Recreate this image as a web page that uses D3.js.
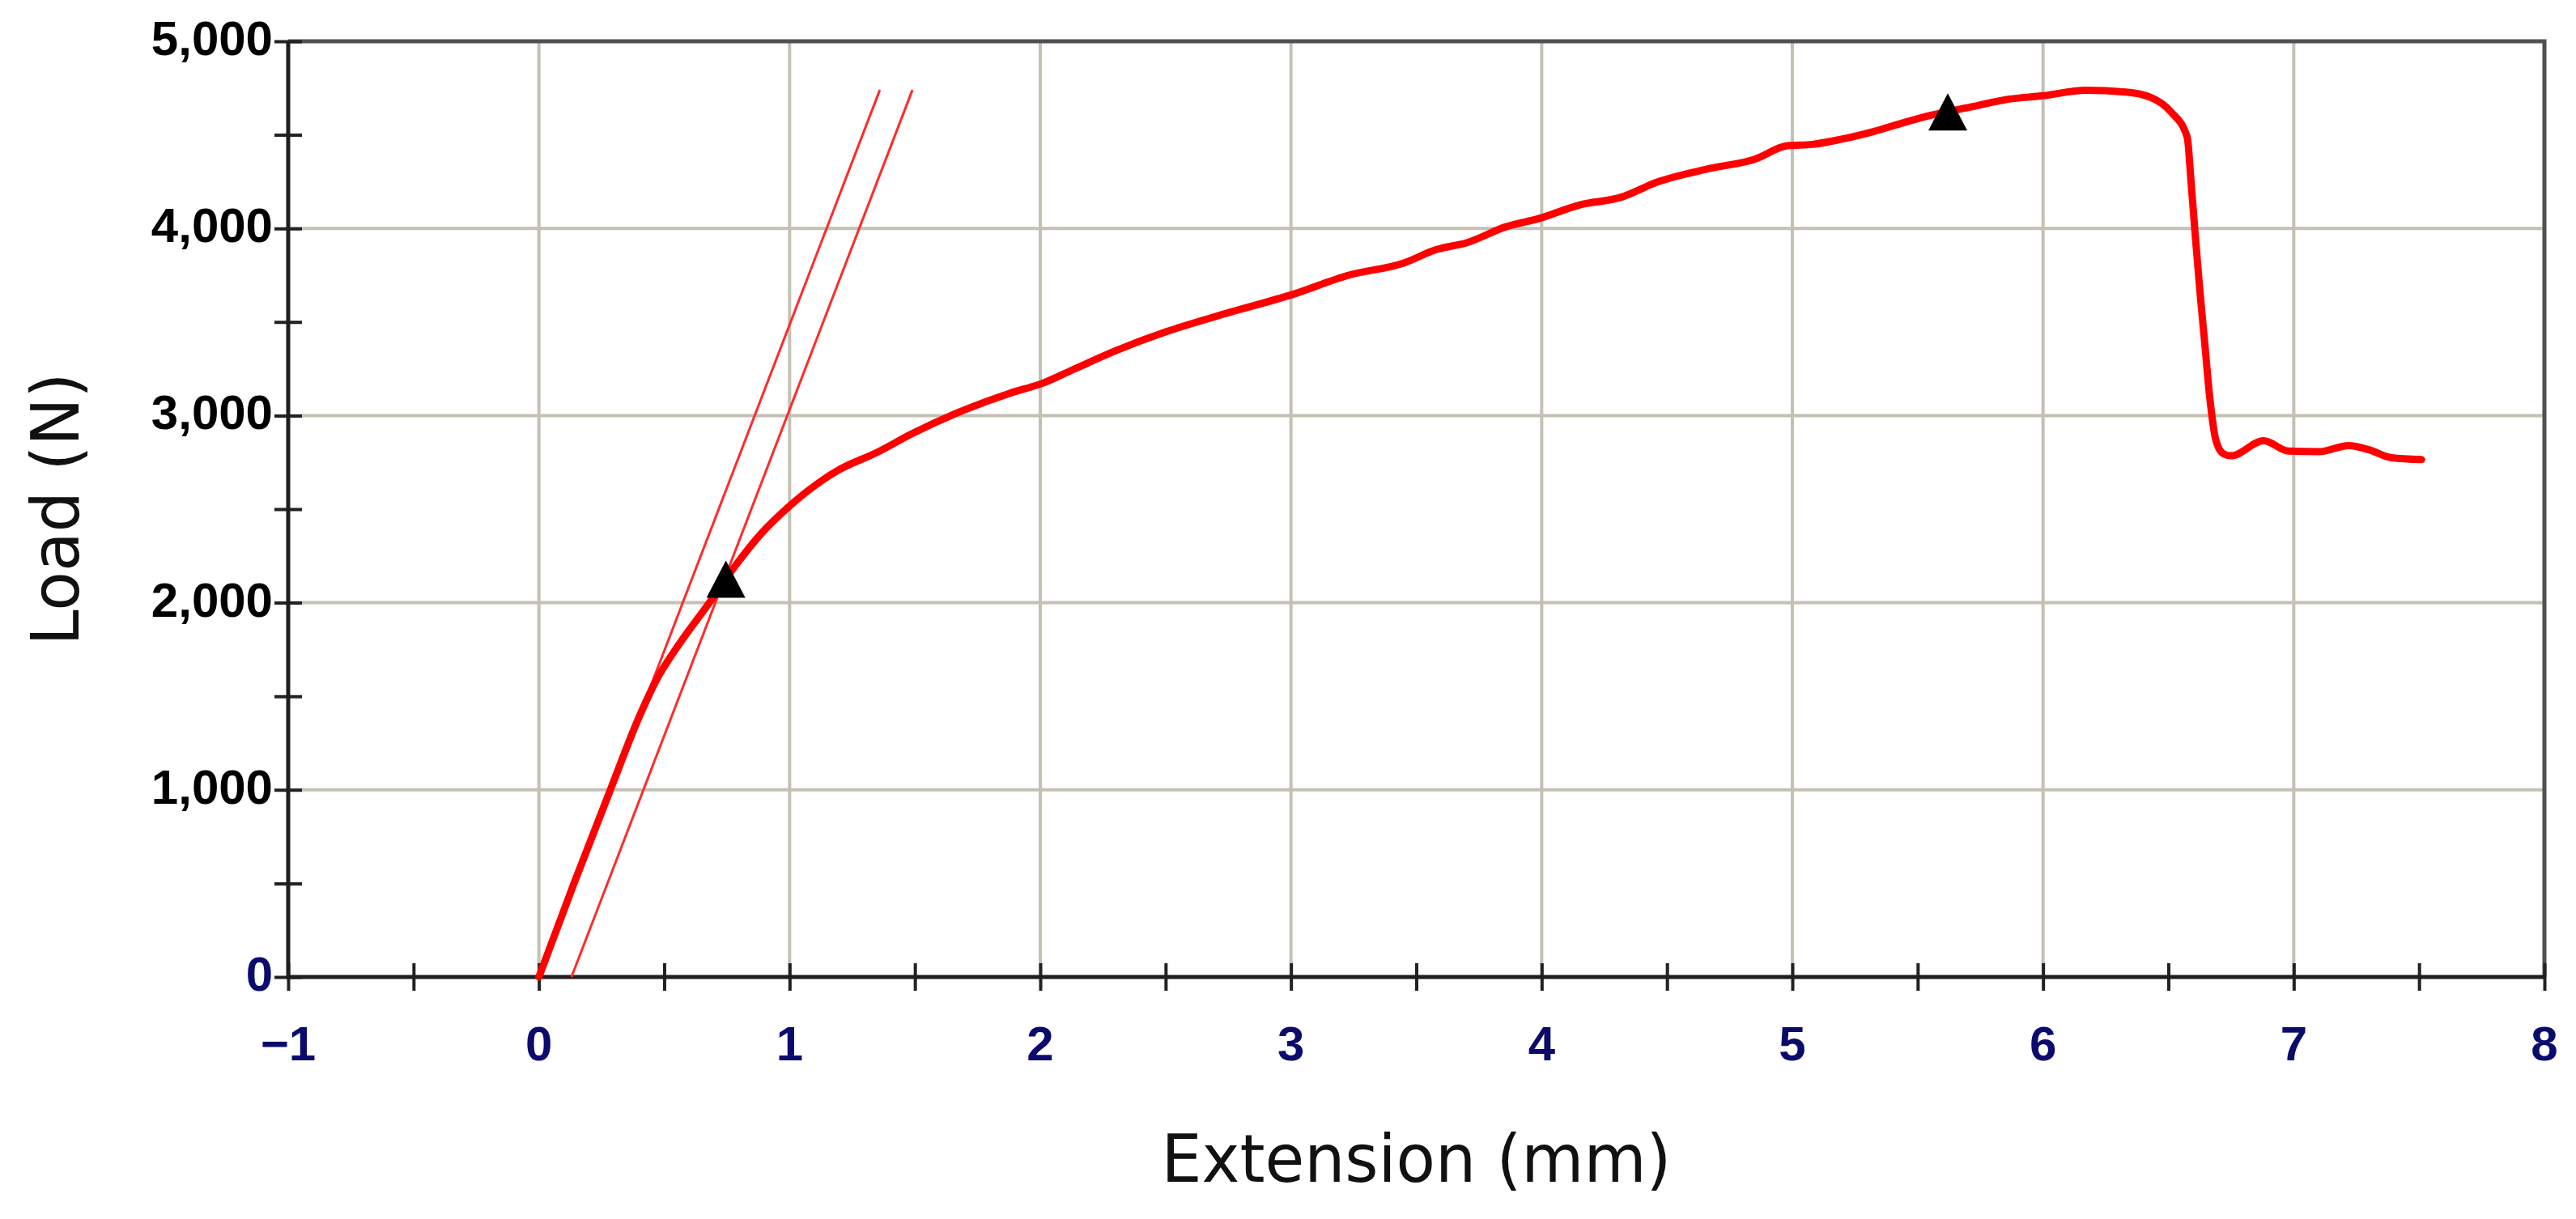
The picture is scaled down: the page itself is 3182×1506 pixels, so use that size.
<!DOCTYPE html>
<html>
<head>
<meta charset="utf-8">
<script src="https://cdn.jsdelivr.net/npm/d3@7"></script>
<style>
  body { margin: 0; background: #fff; }
</style>
</head>
<body>
<div class="chart-container"></div>
<script>
// extension (mm) and load (N)
const extension = [0, 0.14, 0.285, 0.40, 0.47, 0.55, 0.68, 0.785, 0.89, 1.0, 1.19, 1.35, 1.49, 1.67, 1.88,
  2.01, 2.13, 2.3, 2.5, 2.71, 3.01, 3.23, 3.45, 3.58, 3.7, 3.86, 3.99, 4.15, 4.32, 4.46, 4.67, 4.85, 4.98,
  5.08, 5.2, 5.32, 5.44, 5.56, 5.72, 5.86, 6.0, 6.17, 6.33, 6.43, 6.51, 6.575, 6.59, 6.607, 6.625, 6.645,
  6.665, 6.69, 6.72, 6.75, 6.88, 6.98, 7.1, 7.22, 7.3, 7.39, 7.51]
const load = [0, 500, 1000, 1390, 1590, 1760, 2000, 2200, 2374, 2517, 2705, 2804, 2904, 3015, 3120,
  3173, 3245, 3346, 3447, 3534, 3649, 3750, 3815, 3887, 3923, 4010, 4053, 4125, 4168, 4247, 4320, 4370, 4442,
  4449, 4478, 4516, 4564, 4607, 4651, 4690, 4709, 4738, 4729, 4700, 4623, 4488, 4256, 3966, 3676, 3387,
  3097, 2865, 2795, 2785, 2865, 2810, 2807, 2840, 2817, 2775, 2765]

// modulus line and offset line
const slopeLines = [
  [[0, 0], [1.36, 4740]],
  [[0.13, 0], [1.49, 4740]]
]

// yield and max load markers
const markerX = [0.746, 5.62]
const markerY = [2093, 4590]

const xTicks = [-1, 0, 1, 2, 3, 4, 5, 6, 7, 8]
const yTicks = [0, 1000, 2000, 3000, 4000, 5000]
const xMinor = d3.range(-1, 8.01, 0.5)
const yMinor = d3.range(0, 5001, 500)

const width = 3182
const height = 1506
const plot = { left: 356, right: 3143, top: 51, bottom: 1207 }

const svg = d3.select('.chart-container')
  .append('svg')
  .attr('width', width)
  .attr('height', height)

const x = d3.scaleLinear().domain([-1, 8]).range([plot.left, plot.right])
const y = d3.scaleLinear().domain([0, 5000]).range([plot.bottom, plot.top])

const gridColor = '#c4c0b3'

// grid
svg.append('g')
  .selectAll('line')
  .data(xTicks.slice(1, -1))
  .enter()
  .append('line')
  .attr('x1', d => x(d)).attr('x2', d => x(d))
  .attr('y1', plot.top).attr('y2', plot.bottom)
  .attr('stroke', gridColor)
  .attr('stroke-width', 4)

svg.append('g')
  .selectAll('line')
  .data(yTicks.slice(1, -1))
  .enter()
  .append('line')
  .attr('x1', plot.left).attr('x2', plot.right)
  .attr('y1', d => y(d)).attr('y2', d => y(d))
  .attr('stroke', gridColor)
  .attr('stroke-width', 4)

// top and right border
svg.append('path')
  .attr('d', `M${plot.left},${plot.top}H${plot.right}V${plot.bottom}`)
  .attr('fill', 'none')
  .attr('stroke', '#505050')
  .attr('stroke-width', 5)

// axes with ticks crossing the line
const xAxis = svg.append('g')
  .attr('transform', `translate(0,${plot.bottom})`)
  .call(d3.axisBottom(x).tickValues(xMinor).tickSize(17).tickFormat(''))
xAxis.select('.domain').remove()
xAxis.selectAll('.tick line').attr('y1', -17).attr('stroke', '#222').attr('stroke-width', 4)

const yAxis = svg.append('g')
  .attr('transform', `translate(${plot.left},0)`)
  .call(d3.axisLeft(y).tickValues(yMinor).tickSize(17).tickFormat(''))
yAxis.select('.domain').remove()
yAxis.selectAll('.tick line').attr('x1', 17).attr('stroke', '#222').attr('stroke-width', 4)

svg.append('path')
  .attr('d', `M${plot.left},${plot.top}V${plot.bottom}H${plot.right}`)
  .attr('fill', 'none')
  .attr('stroke', '#1e1e1e')
  .attr('stroke-width', 5)

// tick labels
svg.append('g')
  .selectAll('text')
  .data(xTicks)
  .enter()
  .append('text')
  .attr('x', d => x(d))
  .attr('y', 1310)
  .attr('text-anchor', 'middle')
  .attr('font-family', 'Liberation Sans, Arial, sans-serif')
  .attr('font-weight', 'bold')
  .attr('font-size', 60)
  .attr('fill', '#0b0b6e')
  .text(d => d3.format('')(d))

svg.append('g')
  .selectAll('text')
  .data(yTicks)
  .enter()
  .append('text')
  .attr('x', 337)
  .attr('y', d => y(d) + 17)
  .attr('text-anchor', 'end')
  .attr('font-family', 'Liberation Sans, Arial, sans-serif')
  .attr('font-weight', 'bold')
  .attr('font-size', 60)
  .attr('fill', d => d === 0 ? '#0b0b6e' : '#000')
  .text(d => d3.format(',')(d))

// axis titles
svg.append('text')
  .attr('x', (plot.left + plot.right) / 2)
  .attr('y', 1460)
  .attr('text-anchor', 'middle')
  .attr('font-family', 'DejaVu Sans, Verdana, sans-serif')
  .attr('font-size', 82)
  .attr('textLength', 630)
  .attr('lengthAdjust', 'spacingAndGlyphs')
  .attr('fill', '#111')
  .text('Extension (mm)')

svg.append('text')
  .attr('transform', `translate(97,${(plot.top + plot.bottom) / 2}) rotate(-90)`)
  .attr('text-anchor', 'middle')
  .attr('font-family', 'DejaVu Sans, Verdana, sans-serif')
  .attr('font-size', 82)
  .attr('textLength', 337)
  .attr('lengthAdjust', 'spacingAndGlyphs')
  .attr('fill', '#111')
  .text('Load (N)')

// data
const line = d3.line().x(d => x(d[0])).y(d => y(d[1]))

svg.append('g')
  .selectAll('path')
  .data(slopeLines)
  .enter()
  .append('path')
  .attr('d', line)
  .attr('fill', 'none')
  .attr('stroke', '#ff2a2a')
  .attr('stroke-width', 3)

svg.append('path')
  .datum(extension.map((e, i) => [e, load[i]]))
  .attr('d', line.curve(d3.curveMonotoneX))
  .attr('fill', 'none')
  .attr('stroke', '#ff0000')
  .attr('stroke-width', 9)
  .attr('stroke-linejoin', 'round')
  .attr('stroke-linecap', 'round')

const triW = 48
const triH = 46
svg.append('g')
  .selectAll('path')
  .data(markerX.map((m, i) => [m, markerY[i]]))
  .enter()
  .append('path')
  .attr('d', `M0,${-triH * 2 / 3}L${triW / 2},${triH / 3}L${-triW / 2},${triH / 3}Z`)
  .attr('transform', d => `translate(${x(d[0])},${y(d[1])})`)
  .attr('fill', '#000')
</script>
</body>
</html>
